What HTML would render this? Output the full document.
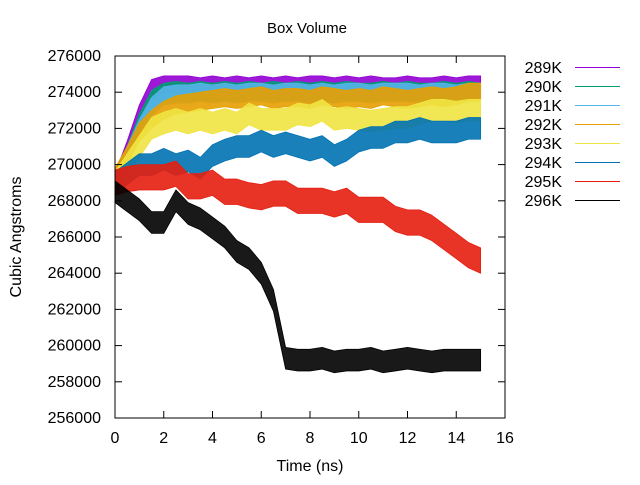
<!DOCTYPE html>
<html><head><meta charset="utf-8"><style>
body{margin:0;background:#fff}
svg{font-family:"Liberation Sans",sans-serif;font-size:16px}
</style></head><body>
<svg id="chart" width="640" height="480">
<text x="307" y="33" text-anchor="middle" font-size="15">Box Volume</text>
<text x="310" y="471" text-anchor="middle">Time (ns)</text>
<text transform="translate(21,237) rotate(-90)" text-anchor="middle">Cubic Angstroms</text>
<g id="series"></g>
<g id="axes"></g>
<g id="legend"></g>
</svg>
<script>
const times=[0,0.5,1,1.5,2,2.5,3,3.5,4,4.5,5,5.5,6,6.5,7,7.5,8,8.5,9,9.5,10,10.5,11,11.5,12,12.5,13,13.5,14,14.5,15];
const labels=["289K","290K","291K","292K","293K","294K","295K","296K"];
const colors=["#9400d3","#009e73","#56b4e9","#e69f00","#f0e442","#0072b2","#e51e10","#000000"];
const s289=[269,270.8,272.8,274.2,274.4,274.4,274.4,274.3,274.4,274.3,274.4,274.3,274.4,274.3,274.4,274.3,274.4,274.4,274.3,274.4,274.3,274.4,274.3,274.3,274.4,274.3,274.3,274.4,274.3,274.4,274.4];
const s290=[269,270.5,272.3,273.6,274,274.1,274,274.1,274,274.1,274,274.1,274,274.1,274,274.1,274,274.1,274,274.1,274,274,274.1,274,274.1,274,274,274.1,274,274.1,274];
const s291=[269,270.5,272,273.2,273.8,273.9,273.9,274,273.9,274,273.9,274,274,273.9,274,274,273.9,274,273.9,274,274,273.9,274,274,274,273.9,274,274,273.9,274,274];
const s292=[269.3,270.5,271.8,272.5,273,273.3,273.4,273.5,273.6,273.7,273.6,273.7,273.8,273.6,273.7,273.7,273.6,273.8,273.7,273.6,273.7,273.6,273.8,273.7,273.6,273.7,273.8,273.7,273.8,274,274];
const s293=[269,270,271,272,272.3,272.5,272.3,272.5,272.3,272.5,272.3,272.8,272.5,272.5,272.5,272.8,272.7,273,272.5,272.6,272.5,272.4,272.5,272.6,272.6,272.8,273,273,272.9,273,273];
const s294=[269,269.5,270,270,270.3,270,270.2,269.8,270.5,270.8,271,271,271.3,271,271.2,271,270.8,271,270.5,270.8,271.3,271.5,271.5,271.8,271.8,272,271.8,271.8,271.8,272,272];
const s295=[269,269.2,269.3,269.3,269.3,269.5,268.8,268.8,269,268.5,268.5,268.3,268.2,268.4,268.4,268,268,268,267.8,268,267.5,267.5,267.5,267,266.8,266.8,266.5,266,265.5,265,264.7];
const s296=[268.5,268,267.5,266.8,266.8,268,267.3,267,266.5,266,265.2,264.8,264,262.5,259.3,259.2,259.2,259.3,259.1,259.2,259.2,259.3,259.1,259.2,259.3,259.2,259.1,259.2,259.2,259.2,259.2];
const spreads=[0.5,0.5,0.5,0.5,0.6,0.6,0.7,0.6];
const allSeries=[s289,s290,s291,s292,s293,s294,s295,s296];
const xTicks=[0,2,4,6,8,10,12,14,16];
const yTicks=[256000,258000,260000,262000,264000,266000,268000,270000,272000,274000,276000];

const NS="http://www.w3.org/2000/svg";
const X0=115,X1=505,Y0=418,Y1=56;
function xs(t){return X0+(t-0)/(16-0)*(X1-X0);}
function ys(v){return Y0-(v-256000)/(276000-256000)*(Y0-Y1);}
function mk(tag,attrs,parent){const e=document.createElementNS(NS,tag);for(const k in attrs)e.setAttribute(k,attrs[k]);parent.appendChild(e);return e;}

const sg=document.getElementById('series');
allSeries.forEach((s,i)=>{
  const sp=spreads[i];
  const top=times.map((t,j)=>xs(t)+","+ys((s[j]+sp)*1000));
  const bot=times.map((t,j)=>xs(t)+","+ys((s[j]-sp)*1000)).reverse();
  const p=mk('polygon',{points:top.concat(bot).join(" "),fill:colors[i],'fill-opacity':0.9,stroke:colors[i],'stroke-width':0.8,'stroke-linejoin':'round'},sg);
  
  
});

const ax=document.getElementById('axes');
const fr=mk('rect',{x:X0,y:Y1,width:X1-X0,height:Y0-Y1,fill:'none',stroke:'#000','stroke-width':1},ax);


xTicks.forEach(t=>{
  const x=xs(t);
  mk('line',{x1:x,x2:x,y1:Y0,y2:Y0-7,stroke:'#000'},ax);
  mk('line',{x1:x,x2:x,y1:Y1,y2:Y1+7,stroke:'#000'},ax);
  const tx=mk('text',{x:x,y:443,'text-anchor':'middle'},ax);
  tx.textContent=t;
  
  
});
yTicks.forEach(v=>{
  const y=ys(v);
  mk('line',{x1:X0,x2:X0+7,y1:y,y2:y,stroke:'#000'},ax);
  mk('line',{x1:X1,x2:X1-7,y1:y,y2:y,stroke:'#000'},ax);
  const tx=mk('text',{x:101,y:y+5,'text-anchor':'end'},ax);
  tx.textContent=v;
  
  
});

const lg=document.getElementById('legend');
labels.forEach((lab,i)=>{
  const y=67+i*19;
  const tx=mk('text',{x:562,y:y+6,'text-anchor':'end'},lg);
  tx.textContent=lab;
  
  
  const ln=mk('line',{x1:575,x2:620,y1:y+0.5,y2:y+0.5,stroke:colors[i],'stroke-width':1},lg);
  
  
});
</script>
</body></html>
